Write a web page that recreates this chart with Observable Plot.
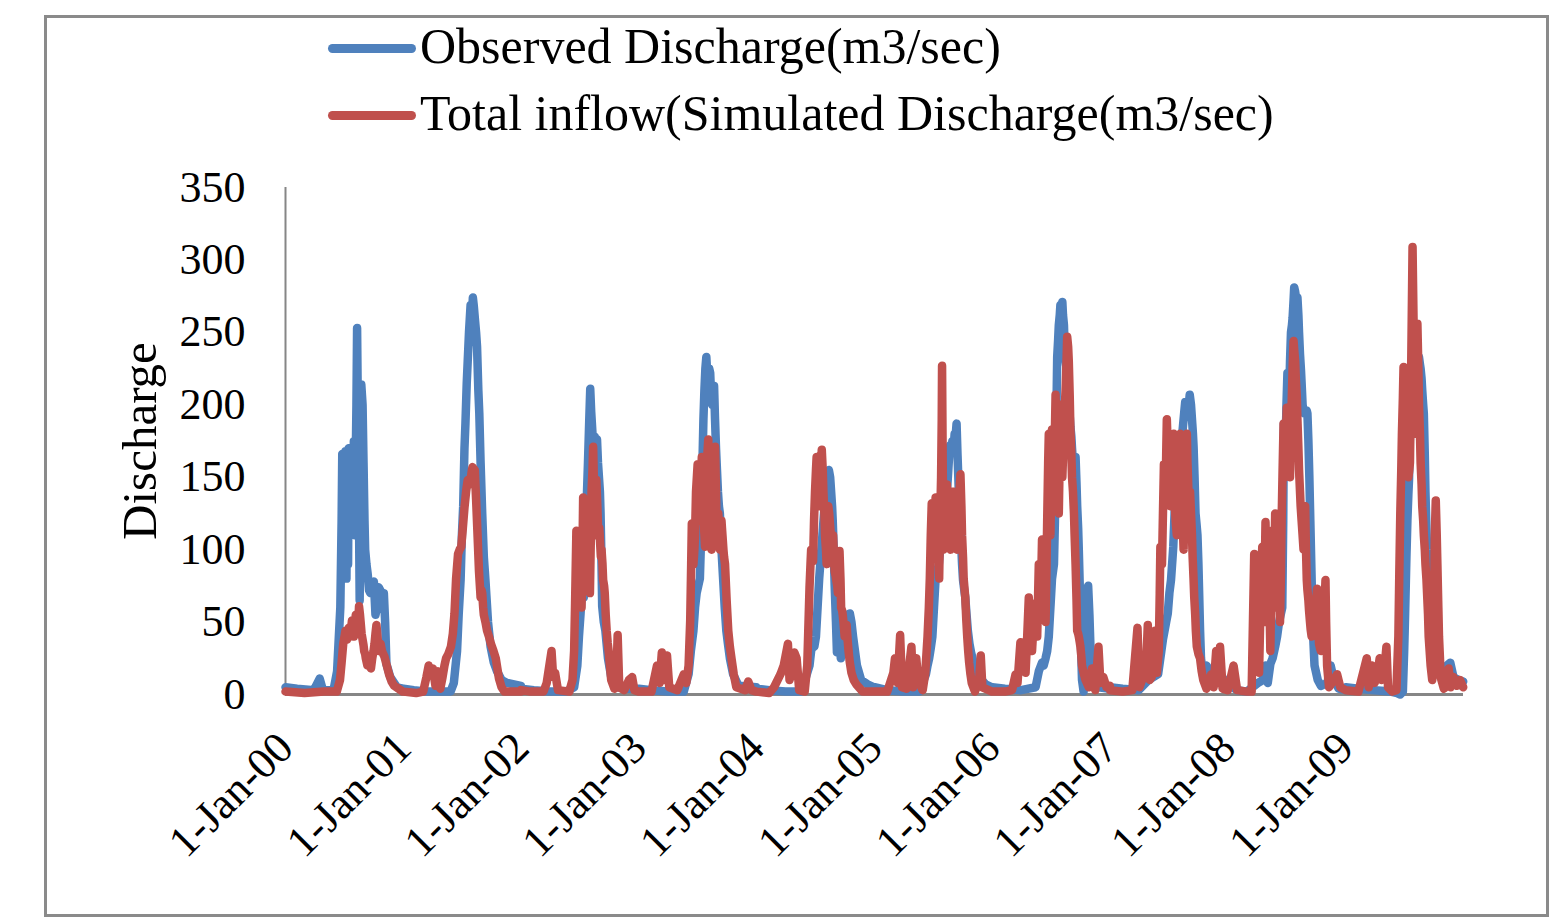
<!DOCTYPE html>
<html>
<head>
<meta charset="utf-8">
<script src="https://cdn.jsdelivr.net/npm/d3@7"></script>
<script src="https://cdn.jsdelivr.net/npm/@observablehq/plot@0.6"></script>
<style>
  body { margin: 0; background: #fff; }
  #wrap { position: relative; width: 1567px; height: 923px; overflow: hidden; font-family: "Liberation Serif", "Times New Roman", serif; background: #fff; }
  #frame { position: absolute; left: 44px; top: 15px; width: 1505px; height: 902px; border: 3px solid #8a8a8a; box-sizing: border-box; }
  #chart { position: absolute; left: 0; top: 0; }
  .sw { position: absolute; left: 328px; width: 88px; height: 9px; border-radius: 4.5px; }
  .lt { position: absolute; left: 420px; font-size: 50px; line-height: 50px; white-space: nowrap; color: #000; }
</style>
</head>
<body>
<div id="wrap">
  <div id="frame"></div>
  <div id="chart"></div>
  <div class="sw" style="top:44px;background:#4F81BD"></div>
  <div class="lt" id="l1" style="top:21px"></div>
  <div class="sw" style="top:111px;background:#C0504D"></div>
  <div class="lt" id="l2" style="top:88px"></div>
</div>
<script>
// ---- series names ----
const seriesNames = ["Observed Discharge(m3/sec)", "Total inflow(Simulated Discharge(m3/sec)"];
const seriesColors = ["#4F81BD", "#C0504D"];
const yTicks = [0, 50, 100, 150, 200, 250, 300, 350];
const tickYears = [2000, 2001, 2002, 2003, 2004, 2005, 2006, 2007, 2008, 2009];
const yTitle = "Discharge";

// ---- observed discharge, [day of year, m3/s] ----
const obs2000 = [[1,5],[37,4],[89,3],[107,11],[117,3],[150,3],[161,16],[171,60],[175,120],[177,166],[180,90],[182,140],[185,100],[187,168],[190,80],[192,150],[195,90],[197,170],[201,110],[205,160],[209,120],[213,175],[216,110],[218,150],[221,200],[223,253],[226,180],[229,120],[231,65],[234,150],[236,214],[240,200],[243,160],[246,120],[248,100],[252,90],[256,83],[260,72],[264,70],[270,76],[275,78],[280,55],[285,60],[290,74],[295,72],[300,60],[306,70],[310,50],[314,21],[326,12],[347,5],[365,4]];
const obs2001 = [[1,4],[33,3],[74,2],[116,2],[147,2],[157,8],[167,30],[172,55],[178,79],[182,110],[186,130],[190,170],[193,187],[197,215],[200,230],[204,250],[209,269],[213,260],[216,274],[219,268],[222,260],[226,250],[229,240],[233,210],[236,194],[240,160],[245,125],[250,95],[255,79],[263,50],[271,33],[281,22],[291,16],[305,10],[322,8],[365,6]];
const obs2002 = [[1,4],[40,3],[90,2],[140,2],[165,5],[175,20],[180,40],[185,56],[190,75],[195,67],[199,100],[202,120],[205,140],[208,160],[212,190],[215,211],[218,195],[222,180],[226,172],[229,178],[232,165],[236,176],[239,160],[242,150],[245,140],[247,125],[250,90],[252,61],[257,50],[262,44],[270,25],[280,12],[290,7],[300,5],[330,4],[365,4]];
const obs2003 = [[1,4],[40,3],[90,2],[140,2],[155,14],[162,30],[170,44],[175,60],[180,70],[185,75],[190,80],[194,110],[197,150],[201,190],[204,210],[207,225],[210,233],[213,220],[216,210],[219,225],[222,222],[225,205],[228,200],[231,210],[234,213],[237,190],[240,170],[243,155],[246,140],[249,130],[252,125],[257,100],[262,80],[267,60],[272,44],[277,35],[283,25],[293,14],[310,6],[365,5]];
const obs2004 = [[1,4],[40,3],[90,2],[140,2],[165,20],[170,30],[175,36],[180,33],[185,40],[190,60],[195,80],[200,95],[205,110],[210,125],[215,140],[220,150],[225,155],[229,150],[232,140],[235,130],[237,120],[240,100],[243,75],[247,50],[250,29],[253,55],[255,70],[259,45],[262,25],[266,35],[270,40],[275,50],[280,55],[285,45],[290,56],[295,50],[300,40],[306,30],[312,20],[325,10],[345,7],[365,5]];
const obs2005 = [[1,5],[40,3],[90,2],[140,2],[160,14],[165,20],[170,25],[175,32],[180,40],[185,60],[190,80],[195,85],[200,90],[204,100],[207,110],[211,118],[214,125],[218,120],[221,130],[225,140],[228,150],[232,165],[235,172],[239,168],[242,175],[246,170],[249,180],[252,178],[255,187],[258,165],[262,140],[265,125],[268,110],[272,90],[275,79],[279,72],[282,67],[286,55],[290,44],[295,35],[300,29],[310,20],[325,12],[345,7],[365,5]];
const obs2006 = [[1,5],[40,4],[90,3],[135,5],[145,16],[155,22],[160,20],[166,25],[171,30],[176,40],[181,60],[186,80],[189,85],[192,90],[195,120],[197,150],[200,200],[202,233],[205,245],[207,255],[210,262],[212,269],[215,266],[218,271],[220,262],[223,255],[225,240],[228,230],[231,225],[233,217],[236,210],[238,200],[241,192],[243,185],[246,178],[248,170],[251,160],[254,155],[257,160],[259,164],[262,145],[264,130],[267,115],[269,100],[272,75],[274,50],[277,25],[279,10],[284,2],[290,30],[294,60],[298,75],[302,55],[307,20],[315,8],[330,5],[365,4]];
const obs2007 = [[1,5],[40,4],[90,3],[120,10],[135,12],[150,14],[155,22],[160,30],[165,38],[170,44],[175,50],[180,56],[185,70],[190,79],[194,92],[197,102],[201,125],[205,148],[209,160],[212,170],[216,176],[220,180],[224,178],[227,185],[231,195],[234,202],[238,198],[241,196],[245,200],[248,207],[252,200],[255,190],[258,180],[260,171],[263,150],[266,125],[269,118],[272,110],[275,90],[277,72],[280,45],[283,25],[290,12],[300,20],[315,15],[335,15],[365,8]];
const obs2008 = [[1,7],[30,3],[60,2],[95,8],[110,10],[118,20],[125,8],[133,21],[140,25],[148,33],[154,40],[160,50],[165,55],[170,60],[173,120],[175,187],[178,175],[180,170],[183,200],[186,222],[189,210],[191,200],[194,230],[197,250],[200,255],[202,260],[205,272],[207,281],[210,278],[212,275],[215,270],[217,274],[220,262],[222,250],[225,235],[228,224],[231,210],[233,200],[236,196],[238,194],[241,195],[243,194],[246,196],[248,194],[251,175],[254,150],[257,120],[259,100],[262,70],[265,44],[270,20],[280,10],[290,6],[310,8],[320,20],[330,10],[345,4],[366,3]];
const obs2009 = [[1,5],[40,4],[90,3],[140,2],[160,1],[170,0],[178,2],[182,30],[185,56],[189,95],[192,120],[195,138],[197,148],[200,180],[202,200],[205,210],[207,217],[210,225],[213,230],[216,236],[218,240],[221,238],[223,235],[226,232],[228,233],[231,228],[233,225],[236,218],[238,210],[241,200],[243,194],[246,165],[248,140],[251,115],[253,100],[256,88],[258,79],[261,65],[264,56],[269,40],[274,30],[280,22],[290,18],[300,16],[315,20],[325,22],[335,12],[350,10],[365,9]];

// ---- simulated total inflow, [day of year, m3/s] ----
const sim2000 = [[1,2],[60,1],[120,2],[160,2],[170,10],[175,22],[180,35],[184,40],[187,44],[192,38],[197,46],[202,40],[207,51],[210,45],[213,40],[216,48],[219,55],[222,48],[224,42],[227,50],[229,61],[232,55],[234,50],[237,42],[240,38],[243,34],[245,30],[248,28],[250,25],[255,20],[260,22],[263,19],[266,18],[270,25],[274,30],[277,35],[280,42],[283,48],[287,38],[290,30],[293,33],[296,35],[300,30],[304,28],[308,26],[315,20],[322,14],[330,9],[338,6],[365,2]];
const sim2001 = [[1,2],[40,1],[62,2],[72,12],[79,20],[85,15],[92,18],[100,6],[108,16],[115,4],[122,12],[128,20],[133,25],[140,28],[148,33],[154,42],[159,56],[164,80],[170,97],[175,100],[180,102],[185,115],[190,129],[195,140],[200,148],[205,145],[210,150],[213,155],[215,157],[218,156],[222,155],[226,135],[230,113],[235,85],[240,67],[243,72],[245,70],[248,60],[250,55],[255,50],[260,44],[266,40],[272,35],[280,30],[287,25],[292,18],[297,11],[305,5],[314,2],[365,2]];
const sim2002 = [[1,3],[30,2],[70,2],[80,8],[95,30],[100,12],[106,15],[115,3],[150,2],[160,10],[165,30],[168,63],[172,113],[175,90],[178,70],[181,95],[183,90],[186,75],[188,60],[191,100],[193,136],[196,120],[198,100],[201,90],[204,79],[207,95],[209,110],[212,90],[214,70],[217,110],[219,140],[222,155],[224,171],[227,140],[229,110],[232,130],[234,148],[237,130],[240,110],[243,115],[245,107],[248,95],[250,100],[253,90],[255,79],[258,75],[260,70],[263,55],[266,44],[269,36],[272,30],[276,20],[280,10],[290,4],[296,10],[300,41],[305,5],[320,3],[335,10],[345,12],[352,3],[365,2]];
const sim2003 = [[1,2],[40,2],[57,20],[65,8],[72,29],[80,10],[88,27],[95,5],[120,3],[140,14],[148,8],[155,20],[160,51],[163,90],[165,118],[168,100],[170,90],[173,100],[175,110],[178,140],[183,159],[186,140],[190,120],[193,145],[196,164],[198,150],[200,130],[203,115],[206,102],[208,125],[211,150],[213,165],[216,176],[219,150],[221,120],[224,110],[226,100],[229,125],[232,150],[235,160],[237,171],[240,140],[242,110],[245,118],[247,125],[250,110],[252,100],[255,110],[257,120],[260,110],[263,100],[265,95],[268,90],[273,65],[278,44],[283,33],[288,25],[295,14],[303,5],[330,3],[340,9],[350,3],[365,2]];
const sim2004 = [[1,2],[40,1],[55,5],[75,14],[85,20],[98,35],[103,10],[110,15],[118,29],[125,25],[133,3],[150,2],[158,20],[165,74],[168,90],[170,100],[173,95],[176,92],[179,120],[182,140],[185,155],[187,164],[190,145],[193,130],[196,150],[198,165],[201,160],[203,169],[206,155],[208,140],[211,125],[213,110],[216,100],[218,90],[221,115],[223,130],[226,125],[228,119],[231,110],[233,100],[236,105],[238,110],[241,95],[243,85],[246,82],[248,79],[251,75],[253,70],[256,85],[258,99],[261,80],[263,60],[266,58],[268,55],[271,48],[274,40],[277,44],[280,48],[283,38],[286,30],[290,22],[295,15],[302,10],[310,7],[330,2],[366,2]];
const sim2005 = [[1,2],[40,2],[59,15],[64,25],[72,8],[80,41],[86,5],[100,4],[115,33],[120,5],[130,25],[136,10],[150,3],[158,15],[165,40],[169,60],[172,80],[175,110],[178,132],[181,115],[184,100],[187,120],[190,136],[193,125],[196,110],[199,95],[201,80],[204,120],[207,150],[209,190],[210,227],[212,160],[214,100],[217,115],[220,130],[222,138],[225,145],[228,125],[230,110],[233,105],[236,100],[238,120],[241,140],[244,135],[246,140],[249,130],[251,120],[254,110],[256,100],[259,115],[261,130],[264,140],[267,152],[270,130],[272,110],[275,95],[277,80],[280,72],[282,67],[285,52],[288,40],[291,30],[294,22],[298,14],[302,8],[312,2],[325,10],[330,27],[335,5],[365,2]];
const sim2006 = [[1,2],[40,2],[62,3],[73,14],[79,8],[88,36],[93,20],[98,30],[104,15],[109,40],[114,67],[119,40],[124,30],[127,42],[130,50],[133,58],[135,63],[138,50],[140,40],[143,70],[145,90],[148,75],[150,60],[153,85],[155,107],[158,95],[160,80],[163,65],[166,50],[169,90],[171,120],[174,160],[176,180],[179,140],[181,110],[184,150],[186,183],[189,155],[191,130],[194,170],[197,207],[199,180],[202,150],[204,135],[207,125],[210,165],[212,200],[215,175],[218,150],[221,170],[223,190],[226,200],[228,210],[231,230],[233,247],[236,240],[238,230],[241,205],[243,183],[246,165],[248,150],[251,140],[254,125],[256,110],[259,90],[262,65],[264,44],[267,42],[269,40],[272,36],[274,33],[277,26],[279,20],[285,14],[290,10],[300,5],[310,18],[320,3],[330,33],[336,8],[345,12],[355,5],[365,6]];
const sim2007 = [[1,3],[40,2],[70,3],[86,46],[92,5],[100,10],[113,20],[118,48],[124,10],[130,12],[140,44],[146,15],[152,30],[155,70],[157,102],[160,95],[162,90],[165,125],[168,159],[170,150],[173,140],[175,165],[177,190],[180,170],[182,150],[185,140],[187,130],[190,145],[193,160],[195,170],[198,180],[200,150],[203,125],[205,118],[208,110],[210,140],[213,170],[215,175],[218,180],[220,160],[223,140],[226,120],[229,100],[231,125],[234,150],[236,165],[239,180],[241,160],[244,140],[246,135],[249,140],[252,125],[255,110],[257,95],[260,79],[262,67],[265,55],[267,44],[270,33],[275,28],[280,25],[285,16],[290,10],[300,4],[315,14],[322,5],[330,30],[336,8],[342,33],[350,4],[365,3]];
const sim2008 = [[1,3],[19,20],[30,3],[60,2],[75,2],[83,97],[86,60],[88,40],[91,52],[93,60],[96,35],[98,15],[101,45],[103,70],[106,90],[108,102],[111,75],[113,50],[116,90],[118,119],[121,90],[123,60],[126,75],[128,90],[131,55],[133,30],[136,75],[138,113],[141,85],[143,60],[146,95],[148,125],[151,90],[153,60],[156,70],[158,80],[161,65],[163,50],[166,85],[168,120],[171,155],[174,187],[176,170],[179,150],[181,175],[184,198],[186,185],[189,170],[191,160],[194,150],[196,175],[199,200],[202,225],[205,244],[207,238],[210,230],[212,218],[215,206],[217,190],[220,170],[222,155],[225,140],[227,130],[230,120],[233,110],[236,100],[238,115],[241,130],[243,105],[246,79],[248,72],[251,65],[253,58],[256,50],[258,45],[261,40],[264,42],[268,45],[273,60],[278,73],[281,50],[284,35],[287,32],[290,30],[294,38],[298,45],[301,62],[304,79],[306,50],[309,20],[315,5],[330,10],[340,14],[350,5],[366,3]];
const sim2009 = [[1,3],[40,2],[66,25],[72,5],[82,20],[90,8],[98,12],[106,25],[112,10],[120,15],[127,33],[132,5],[145,2],[158,3],[164,40],[167,85],[170,125],[173,155],[175,180],[178,205],[180,226],[183,190],[185,160],[188,175],[190,190],[193,170],[195,150],[198,155],[200,160],[202,195],[204,230],[206,270],[208,309],[211,260],[213,220],[216,200],[218,180],[221,220],[223,256],[226,225],[228,200],[231,180],[233,160],[236,145],[238,130],[241,120],[243,110],[246,100],[248,90],[251,80],[253,70],[256,55],[258,40],[261,30],[264,20],[269,10],[272,25],[274,40],[277,110],[280,134],[283,110],[285,90],[288,60],[290,40],[293,25],[295,12],[305,4],[315,6],[320,18],[326,5],[335,12],[345,6],[355,10],[365,5]];

const obsYears = [obs2000, obs2001, obs2002, obs2003, obs2004, obs2005, obs2006, obs2007, obs2008, obs2009];
const simYears = [sim2000, sim2001, sim2002, sim2003, sim2004, sim2005, sim2006, sim2007, sim2008, sim2009];

function toRows(years) {
  return years.flatMap((arr, i) => arr.map(([d, v]) => ({date: new Date(Date.UTC(tickYears[i], 0, d)), value: v})));
}
const observed = toRows(obsYears);
const simulated = toRows(simYears);

document.getElementById("l1").textContent = seriesNames[0];
document.getElementById("l2").textContent = seriesNames[1];

const start = new Date(Date.UTC(2000, 0, 1));
const end = new Date(Date.UTC(2010, 0, 1));

const chart = Plot.plot({
  width: 1567,
  height: 923,
  marginLeft: 285,
  marginRight: 104,
  marginTop: 187,
  marginBottom: 229,
  style: {background: "transparent", fontFamily: "'Liberation Serif', 'Times New Roman', serif", fontSize: "44px", color: "#000", overflow: "visible"},
  x: {
    type: "utc",
    domain: [start, end],
    ticks: tickYears.map(y => new Date(Date.UTC(y, 0, 1))),
    tickFormat: d3.utcFormat("%-d-%b-%y"),
    tickRotate: -45,
    tickSize: 0,
    tickPadding: 46,
    label: null
  },
  y: {
    domain: [0, 350],
    ticks: yTicks,
    tickSize: 0,
    tickPadding: 40,
    label: null
  },
  marks: [
    Plot.ruleY([0], {stroke: "#868686", strokeWidth: 3}),
    Plot.ruleX([start], {stroke: "#868686", strokeWidth: 2}),
    Plot.line(observed, {x: "date", y: "value", stroke: seriesColors[0], strokeWidth: 8.5, strokeLinejoin: "round", strokeLinecap: "round"}),
    Plot.line(simulated, {x: "date", y: "value", stroke: seriesColors[1], strokeWidth: 8.5, strokeLinejoin: "round", strokeLinecap: "round"}),
    Plot.text([yTitle], {text: d => d, frameAnchor: "left", textAnchor: "middle", dx: -145, rotate: -90, fontSize: 49, fill: "#000"})
  ]
});
document.getElementById("chart").appendChild(chart);
</script>
</body>
</html>
